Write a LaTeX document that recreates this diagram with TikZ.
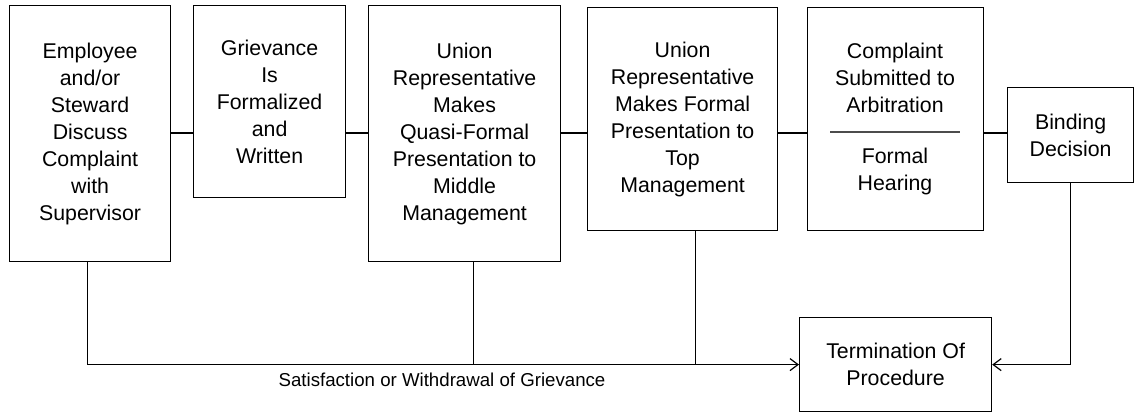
\documentclass[tikz,border=0pt]{standalone}
\usepackage{fontspec}
\setmainfont{Liberation Sans}
\usetikzlibrary{arrows.meta,calc}
\begin{document}
\begin{tikzpicture}[x=0.75pt,y=-0.75pt,
  every node/.style={font=\fontsize{16}{20.25}\selectfont},
  stage/.style={draw, line width=0.9pt, anchor=north west, inner sep=0pt, align=center},
  link/.style={line width=0.9pt},
  flow/.style={link, -{Straight Barb[length=6pt,width=9pt,line width=0.9pt]}},
  caption/.style={font=\fontsize{14}{16}\selectfont}]
\useasboundingbox (0,0) rectangle (1135,413);

% process stages
\node[stage, minimum width=120.75pt, minimum height=192pt] (emp) at (9,5)
  {Employee\\and/or\\Steward\\Discuss\\Complaint\\with\\Supervisor};
\node[stage, minimum width=114pt, minimum height=144pt] (griev) at (193,5)
  {Grievance\\Is\\Formalized\\and\\Written};
\node[stage, minimum width=144pt, minimum height=192pt] (mid) at (368,5)
  {Union\\Representative\\Makes\\Quasi-Formal\\Presentation to\\Middle\\Management};
\node[stage, minimum width=142.5pt, minimum height=167.25pt] (top) at (587,7)
  {Union\\Representative\\Makes Formal\\Presentation to\\Top\\Management};
\node[stage, minimum width=132pt, minimum height=167.25pt] (arb) at (807,7) {};
\node[align=center] (arbup) at (895,78) {Complaint\\Submitted to\\Arbitration};
\node[align=center] (arbdown) at (895,171) {Formal\\Hearing};
\coordinate (ruleL) at (830,132);
\coordinate (ruleR) at (960,132);
\draw[line width=1.2pt, black!70] (ruleL) -- (ruleR);
\node[stage, minimum width=94.5pt, minimum height=71.25pt] (bind) at (1007,87)
  {Binding\\Decision};
\node[stage, minimum width=144pt, minimum height=70.5pt] (term) at (799,317)
  {Termination Of\\Procedure};

% sequence links
\coordinate (row) at (0,133);
\draw[link] (emp.east |- row) -- (griev.west |- row);
\draw[link] (griev.east |- row) -- (mid.west |- row);
\draw[link] (mid.east |- row) -- (top.west |- row);
\draw[link] (top.east |- row) -- (arb.west |- row);
\draw[link] (arb.east |- row) -- (bind.west |- row);

% exits to termination
\coordinate (midout) at ([xshift=6.75pt]mid.south);
\coordinate (topout) at ([xshift=9.75pt]top.south);
\draw[flow] ([xshift=-2pt]emp.south) |- (term.west);
\draw[link] (midout) -- (midout |- term.west);
\draw[link] (topout) -- (topout |- term.west);
\draw[flow] (bind.south) |- (term.east);

\node[caption] (sat) at (442,380) {Satisfaction or Withdrawal of Grievance};
\end{tikzpicture}
\end{document}
